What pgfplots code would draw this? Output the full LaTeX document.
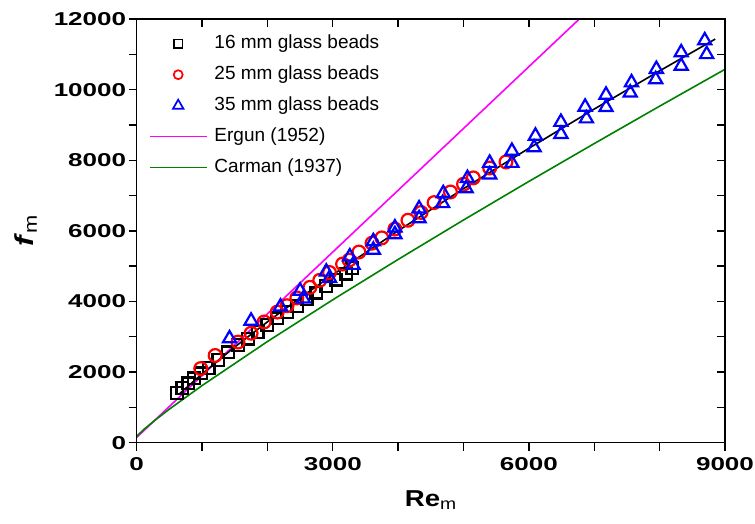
\documentclass[border=0pt]{standalone}
\usepackage{pgfplots}
\usepackage{pgfplotstable}
\pgfplotsset{compat=1.18}
\usepackage{fontspec}
\setmainfont{Liberation Sans}
\newfontfamily\tickfont{Liberation Sans}[FakeStretch=1.4]
\newfontfamily\labelfont{Liberation Sans}[FakeStretch=1.2]
\definecolor{ergun}{RGB}{255,0,255}
\definecolor{carman}{RGB}{0,128,0}

\pgfplotstableread{
x y
620 1400
700 1550
790 1680
880 1820
980 1960
1100 2120
1250 2350
1400 2560
1550 2760
1700 2950
1850 3130
2000 3330
2150 3520
2300 3700
2450 3880
2600 4060
2750 4250
2900 4440
3050 4620
3200 4790
3300 4950
}\sixteen

\pgfplotstableread{
x y
980 2100
1200 2470
1550 2850
1750 3100
1950 3420
2150 3700
2300 3880
2450 4100
2650 4400
2800 4600
2950 4820
3150 5060
3250 5170
3400 5400
3600 5650
3750 5800
3950 6050
4150 6300
4350 6520
4550 6800
4800 7100
5000 7320
5150 7500
5400 7780
5650 7950
}\twentyfive

\pgfplotstableread{
x y
1420 2950
1750 3450
2200 3850
2500 4300
2550 4080
2900 4840
2950 4660
3260 5270
3310 5030
3620 5700
3620 5460
3950 6090
3950 5900
4320 6630
4320 6350
4690 7060
4680 6780
5060 7490
5040 7200
5400 7920
5400 7590
5740 8260
5740 7920
6100 8690
6080 8360
6490 9080
6490 8740
6860 9510
6880 9180
7180 9850
7180 9500
7570 10200
7550 9910
7950 10580
7940 10290
8330 11050
8330 10670
8690 11390
8720 11000
}\thirtyfive

\pgfplotstableread{
x y
0 150
7000 12400
}\ergun

\pgfplotstableread{
x y
0 180
100 361
250 593
500 951
1000 1618
2000 2865
3000 4048
4000 5191
5000 6307
6000 7400
7000 8472
8000 9531
9000 10575
}\carman

\pgfplotstableread{
x y
650 1376
1000 1951
1500 2711
2000 3423
2500 4101
3000 4756
4000 6003
5000 7194
6000 8338
7000 9450
8000 10531
8850 11430
}\fit

\begin{document}
\begin{tikzpicture}
\useasboundingbox (-136.7pt,-81.3pt) rectangle (618.3pt,442.7pt);
\pgfplotsset{
  common/.style={
    width=588.3pt, height=423.7pt, scale only axis,
    xmin=0, xmax=9000, ymin=0, ymax=12000,
    scaled x ticks=false, scaled y ticks=false,
    xtick={0,3000,6000,9000},
    minor xtick={1000,2000,4000,5000,7000,8000},
    ytick={0,2000,...,12000},
    minor ytick={1000,3000,...,11000},
    major tick length=8pt, minor tick length=8pt,
    axis line style={line width=1.6pt},
    tick style={line width=1.4pt, black},
    /pgf/number format/assume math mode=true,
    /pgf/number format/1000 sep={},
    tick label style={font=\tickfont\bfseries\fontsize{18.6}{18.6}\selectfont},
  }
}
\begin{axis}[common,
  tick pos=left, tick align=outside,
  xticklabel style={yshift=-3pt},
  yticklabel style={xshift=1pt},
  xlabel={\textbf{Re}\textsubscript{m}},
  ylabel={\textbf{\textit{f}}\textsubscript{m}},
  label style={font=\labelfont\fontsize{23}{23}\selectfont},
  xlabel style={yshift=-13pt},
  ylabel style={yshift=10pt, font=\labelfont\fontsize{26}{26}\selectfont},
  legend cell align=left,
  legend image code/.code={\draw[mark repeat=2,mark phase=2,#1] plot coordinates {(0pt,0pt) (28.5pt,0pt) (57pt,0pt)};},
  legend style={draw=none, fill=none, at={(0,1)}, anchor=north west,
    xshift=9pt, yshift=-13pt,
    font=\fontsize{19}{22}\selectfont,
    row sep=12pt,
    nodes={inner sep=0pt, text height=14pt, text depth=5pt},
    /tikz/every odd column/.append style={column sep=7pt}},
]
\addplot[only marks, black, mark=square, mark size=5.9pt, line width=2.2pt,
  legend image post style={mark size=4.3pt, line width=1.7pt}] table {\sixteen};
\addlegendentry{16 mm glass beads}
\addplot[only marks, red, mark=o, mark size=6.4pt, line width=2.2pt,
  legend image post style={mark size=4.5pt, line width=1.7pt}] table {\twentyfive};
\addlegendentry{25 mm glass beads}
\addplot[only marks, blue, mark=triangle, mark size=7.6pt, line width=2.2pt,
  legend image post style={mark size=6pt, line width=1.7pt}] table {\thirtyfive};
\addlegendentry{35 mm glass beads}
\addplot[ergun, line width=1.6pt] table {\ergun};
\addlegendentry{Ergun (1952)}
\addplot[carman, line width=1.6pt] table {\carman};
\addlegendentry{Carman (1937)}
\addplot[black, line width=1.6pt, forget plot] table {\fit};
\end{axis}
\begin{axis}[common,
  tick pos=right, tick align=inside,
  xticklabels={}, yticklabels={},
]
\end{axis}
\end{tikzpicture}
\end{document}
